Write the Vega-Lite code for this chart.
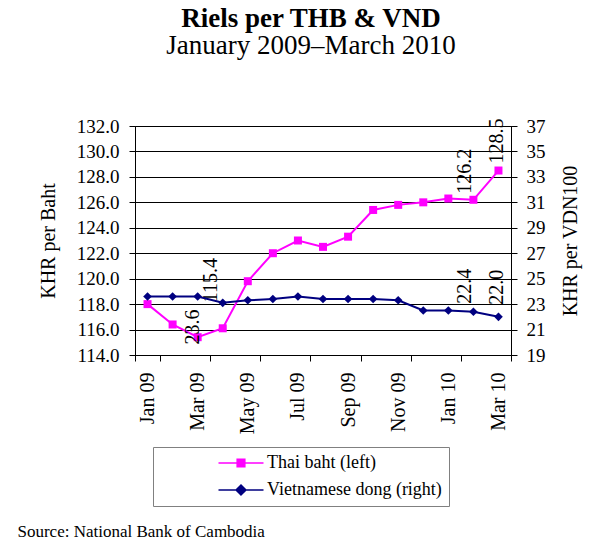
{
  "$schema": "https://vega.github.io/schema/vega-lite/v6.json",
  "width": 376,
  "height": 229,
  "autosize": {"type": "none"},
  "padding": {"left": 135, "top": 126, "right": 105, "bottom": 203},
  "background": "white",
  "title": {
    "text": "Riels per THB & VND",
    "subtitle": "January 2009–March 2010",
    "font": "Liberation Serif",
    "fontSize": 27,
    "fontWeight": "bold",
    "color": "black",
    "subtitleFont": "Liberation Serif",
    "subtitleFontSize": 27,
    "subtitleColor": "black",
    "subtitlePadding": 0,
    "anchor": "middle",
    "offset": 57,
    "dx": -12
  },
  "data": {
    "values": [
      {"month": "Jan 09", "series": "Thai baht (left)", "value": 118.0},
      {"month": "Feb 09", "series": "Thai baht (left)", "value": 116.4},
      {"month": "Mar 09", "series": "Thai baht (left)", "value": 115.4},
      {"month": "Apr 09", "series": "Thai baht (left)", "value": 116.1},
      {"month": "May 09", "series": "Thai baht (left)", "value": 119.8},
      {"month": "Jun 09", "series": "Thai baht (left)", "value": 122.0},
      {"month": "Jul 09", "series": "Thai baht (left)", "value": 123.0},
      {"month": "Aug 09", "series": "Thai baht (left)", "value": 122.5},
      {"month": "Sep 09", "series": "Thai baht (left)", "value": 123.3},
      {"month": "Oct 09", "series": "Thai baht (left)", "value": 125.4},
      {"month": "Nov 09", "series": "Thai baht (left)", "value": 125.8},
      {"month": "Dec 09", "series": "Thai baht (left)", "value": 126.0},
      {"month": "Jan 10", "series": "Thai baht (left)", "value": 126.3},
      {"month": "Feb 10", "series": "Thai baht (left)", "value": 126.2},
      {"month": "Mar 10", "series": "Thai baht (left)", "value": 128.5},
      {"month": "Jan 09", "series": "Vietnamese dong (right)", "value": 23.6},
      {"month": "Feb 09", "series": "Vietnamese dong (right)", "value": 23.6},
      {"month": "Mar 09", "series": "Vietnamese dong (right)", "value": 23.6},
      {"month": "Apr 09", "series": "Vietnamese dong (right)", "value": 23.1},
      {"month": "May 09", "series": "Vietnamese dong (right)", "value": 23.3},
      {"month": "Jun 09", "series": "Vietnamese dong (right)", "value": 23.4},
      {"month": "Jul 09", "series": "Vietnamese dong (right)", "value": 23.6},
      {"month": "Aug 09", "series": "Vietnamese dong (right)", "value": 23.4},
      {"month": "Sep 09", "series": "Vietnamese dong (right)", "value": 23.4},
      {"month": "Oct 09", "series": "Vietnamese dong (right)", "value": 23.4},
      {"month": "Nov 09", "series": "Vietnamese dong (right)", "value": 23.3},
      {"month": "Dec 09", "series": "Vietnamese dong (right)", "value": 22.5},
      {"month": "Jan 10", "series": "Vietnamese dong (right)", "value": 22.5},
      {"month": "Feb 10", "series": "Vietnamese dong (right)", "value": 22.4},
      {"month": "Mar 10", "series": "Vietnamese dong (right)", "value": 22.0}
    ]
  },
  "layer": [
    {
      "transform": [{"filter": "datum.series == 'Thai baht (left)'"}],
      "encoding": {
        "x": {
          "field": "month",
          "type": "ordinal",
          "scale": {
            "type": "band",
            "domain": ["Jan 09", "Feb 09", "Mar 09", "Apr 09", "May 09", "Jun 09", "Jul 09", "Aug 09", "Sep 09", "Oct 09", "Nov 09", "Dec 09", "Jan 10", "Feb 10", "Mar 10"],
            "paddingInner": 0,
            "paddingOuter": 0
          },
          "axis": {
            "values": ["Jan 09", "Mar 09", "May 09", "Jul 09", "Sep 09", "Nov 09", "Jan 10", "Mar 10"],
            "tickBand": "extent",
            "labelAngle": 270,
            "labelAlign": "right",
            "labelBaseline": "middle",
            "labelPadding": 11,
            "labelFontSize": 20,
            "tickSize": 6,
            "grid": false,
            "title": "Source: National Bank of Cambodia",
            "titleFontSize": 17,
            "titleFontWeight": "normal",
            "titleAlign": "left",
            "titleAnchor": "start",
            "titleBaseline": "alphabetic",
            "titleX": -118,
            "titleY": 181
          }
        },
        "y": {
          "field": "value",
          "type": "quantitative",
          "scale": {"domain": [114, 132], "nice": false, "zero": false},
          "axis": {
            "orient": "left",
            "values": [114, 116, 118, 120, 122, 124, 126, 128, 130, 132],
            "format": ".1f",
            "grid": true,
            "gridColor": "black",
            "gridWidth": 1,
            "gridOpacity": 1,
            "tickSize": 6,
            "labelPadding": 10,
            "labelFontSize": 19,
            "title": "KHR per Baht",
            "titleFontSize": 20,
            "titleFontWeight": "normal",
            "titleAngle": 270,
            "titleAlign": "center",
            "titleBaseline": "middle",
            "titleX": -87,
            "titleY": 114.5
          }
        },
        "color": {
          "field": "series",
          "type": "nominal",
          "scale": {"domain": ["Thai baht (left)", "Vietnamese dong (right)"], "range": ["#ff00ff", "#000080"]},
          "legend": {
            "orient": "none",
            "legendX": 18,
            "legendY": 321,
            "title": null,
            "direction": "vertical",
            "strokeColor": "#808080",
            "fillColor": "#ffffff",
            "padding": 7,
            "rowPadding": 9,
            "symbolSize": 81,
            "symbolOffset": 72,
            "labelOffset": 17,
            "labelFontSize": 18,
            "labelLimit": 400,
            "encode": {
              "symbols": {
                "update": {
                  "shape": {"signal": "datum.value == 'Thai baht (left)' ? 'M-5,0L5,0M-0.85,-0.85L0.85,-0.85L0.85,0.85L-0.85,0.85Z' : 'M-5,0L5,0M0,-1.1L1.1,0L0,1.1L-1.1,0Z'"},
                  "fill": {"signal": "datum.value == 'Thai baht (left)' ? '#ff00ff' : '#000080'"},
                  "stroke": {"signal": "datum.value == 'Thai baht (left)' ? '#ff00ff' : '#000080'"},
                  "strokeWidth": {"value": 1.5},
                  "size": {"value": 81},
                  "opacity": {"value": 1}
                }
              }
            }
          }
        }
      },
      "layer": [
        {"mark": {"type": "line", "strokeWidth": 2}},
        {"mark": {"type": "point", "shape": "square", "filled": true, "size": 64, "opacity": 1}},
        {
          "transform": [{"filter": "datum.month == 'Mar 09'"}],
          "mark": {"type": "text", "angle": 270, "align": "left", "baseline": "middle", "dx": 35, "dy": 13, "fontSize": 20},
          "encoding": {"text": {"field": "value", "format": ".1f"}, "color": {"value": "black"}}
        },
        {
          "transform": [{"filter": "datum.month == 'Feb 10'"}],
          "mark": {"type": "text", "angle": 270, "align": "left", "baseline": "middle", "dx": 6, "dy": -8, "fontSize": 20},
          "encoding": {"text": {"field": "value", "format": ".1f"}, "color": {"value": "black"}}
        },
        {
          "transform": [{"filter": "datum.month == 'Mar 10'"}],
          "mark": {"type": "text", "angle": 270, "align": "left", "baseline": "middle", "dx": 7, "dy": -1, "fontSize": 20},
          "encoding": {"text": {"field": "value", "format": ".1f"}, "color": {"value": "black"}}
        }
      ]
    },
    {
      "transform": [{"filter": "datum.series == 'Vietnamese dong (right)'"}],
      "encoding": {
        "x": {"field": "month", "type": "ordinal"},
        "y": {
          "field": "value",
          "type": "quantitative",
          "scale": {"domain": [19, 37], "nice": false, "zero": false},
          "axis": {
            "orient": "right",
            "values": [19, 21, 23, 25, 27, 29, 31, 33, 35, 37],
            "format": "d",
            "grid": false,
            "tickSize": 6,
            "labelPadding": 9,
            "labelFontSize": 19,
            "title": "KHR per VDN100",
            "titleFontSize": 20,
            "titleFontWeight": "normal",
            "titleAngle": 270,
            "titleAlign": "center",
            "titleBaseline": "middle",
            "titleX": 59,
            "titleY": 114.5
          }
        },
        "color": {"field": "series", "type": "nominal"}
      },
      "layer": [
        {"mark": {"type": "line", "strokeWidth": 2}},
        {"mark": {"type": "point", "shape": "diamond", "filled": true, "size": 75, "opacity": 1}},
        {
          "transform": [{"filter": "datum.month == 'Mar 09'"}],
          "mark": {"type": "text", "angle": 270, "align": "right", "baseline": "middle", "dx": -13, "dy": -5, "fontSize": 20},
          "encoding": {"text": {"field": "value", "format": ".1f"}, "color": {"value": "black"}}
        },
        {
          "transform": [{"filter": "datum.month == 'Feb 10'"}],
          "mark": {"type": "text", "angle": 270, "align": "left", "baseline": "middle", "dx": 8, "dy": -8, "fontSize": 20},
          "encoding": {"text": {"field": "value", "format": ".1f"}, "color": {"value": "black"}}
        },
        {
          "transform": [{"filter": "datum.month == 'Mar 10'"}],
          "mark": {"type": "text", "angle": 270, "align": "left", "baseline": "middle", "dx": 12, "dy": -1, "fontSize": 20},
          "encoding": {"text": {"field": "value", "format": ".1f"}, "color": {"value": "black"}}
        }
      ]
    }
  ],
  "resolve": {"scale": {"y": "independent"}},
  "config": {
    "font": "Liberation Serif",
    "view": {"stroke": "black", "strokeWidth": 1},
    "axis": {
      "labelColor": "black",
      "titleColor": "black",
      "domainColor": "black",
      "tickColor": "black",
      "labelFont": "Liberation Serif",
      "titleFont": "Liberation Serif"
    },
    "legend": {"labelFont": "Liberation Serif", "labelColor": "black"},
    "text": {"font": "Liberation Serif"}
  }
}
